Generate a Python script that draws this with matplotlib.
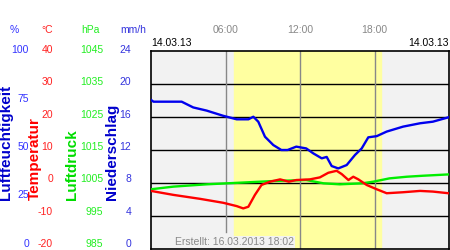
import matplotlib
matplotlib.use("Agg")
import matplotlib.pyplot as plt

plt.rcParams['font.family'] = ['Liberation Sans', 'DejaVu Sans']

# hours of day 14.03.13
hum_hours = [0.0, 0.2, 2.47, 3.4, 4.48, 5.8, 6.9, 7.85, 8.24, 8.64, 9.18, 9.85, 10.5, 11.0,
             11.7, 12.5, 13.07, 13.75, 14.15, 14.55, 15.08, 15.76, 16.43, 16.97, 17.5,
             18.18, 18.98, 20.3, 21.67, 22.7, 23.95]
hum_vals = [75.3, 74.4, 74.4, 71.5, 69.9, 67.3, 65.5, 65.5, 66.8, 64.3, 56.7, 52.5, 50.0, 50.0,
            51.7, 50.8, 48.3, 45.8, 46.5, 41.9, 40.7, 42.4, 47.5, 50.8, 56.4,
            57.0, 59.3, 61.8, 63.5, 64.3, 66.5]

temp_hours = [0.0, 1.8, 3.95, 5.82, 6.9, 7.43, 7.84, 8.37, 8.9, 9.58, 10.4, 11.1, 11.7, 12.8,
              13.6, 14.28, 14.95, 15.36, 15.9, 16.29, 16.7, 17.37, 18.18, 18.98, 20.3,
              21.67, 22.7, 23.95]
temp_vals = [-2.4, -3.6, -4.8, -6.0, -7.0, -7.7, -7.2, -3.6, -0.6, 0.4, 1.1, 0.4, 0.9, 1.1,
             1.7, 3.1, 3.7, 2.7, 0.9, 1.9, 1.1, -0.6, -1.9, -3.1, -2.8,
             -2.4, -2.6, -3.1]

pres_hours = [0.0, 1.8, 4.48, 7.2, 9.85, 12.5, 13.9, 15.2, 17.0, 17.9, 19.2, 20.6, 21.9, 23.95]
pres_vals = [1003.1, 1003.9, 1004.6, 1005.1, 1005.6, 1005.9, 1004.9, 1004.6, 1004.9, 1005.4,
             1006.4, 1006.9, 1007.2, 1007.6]

daylight = (6.68, 18.55)
hour_ticks = [6, 12, 18]
hour_labels = ['06:00', '12:00', '18:00']

hum_ticks = [100, 75, 50, 25, 0]
temp_ticks = [40, 30, 20, 10, 0, -10, -20]
pres_ticks = [1045, 1035, 1025, 1015, 1005, 995, 985]
rain_ticks = [24, 20, 16, 12, 8, 4, 0]

W, H = 450, 250
fig = plt.figure(figsize=(W / 100, H / 100), dpi=100)
fig.patch.set_facecolor('white')


def px(x, y):
    return x / W, 1 - y / H


ax_l, ax_t, ax_r, ax_b = 151, 51, 449, 249
ax = fig.add_axes([ax_l / W, 1 - ax_b / H, (ax_r - ax_l) / W, (ax_b - ax_t) / H])
ax.set_facecolor('#f2f2f2')
ax.set_xlim(0, 24)
ax.set_ylim(-20, 40)
ax.set_xticks([])
ax.set_yticks([])
for s in ax.spines.values():
    s.set_color('black')
    s.set_linewidth(1.2)

ax.axvspan(daylight[0], daylight[1], color='#ffffa0', zorder=0)
for t in temp_ticks[1:-1]:
    ax.axhline(t, color='black', lw=1.0, zorder=1)
ax.axvline(6, ymin=(ax_b - 232) / (ax_b - ax_t), ymax=1, color='#888888', lw=1.0, zorder=1)
for h in hour_ticks[1:]:
    ax.axvline(h, color='#888888', lw=1.0, zorder=1)

# pressure and humidity mapped onto temperature scale
pres_mapped = [(p - 985) - 20 for p in pres_vals]
hum_mapped = [v * 0.6 - 20 for v in hum_vals]
ax.plot(pres_hours, pres_mapped, color='#00ee00', lw=1.7, zorder=3)
ax.plot(temp_hours, temp_vals, color='#ff0000', lw=1.7, zorder=4)
ax.plot(hum_hours, hum_mapped, color='#0000ee', lw=1.7, zorder=5)

ax.text(0.08, 0.035, 'Erstellt: 16.03.2013 18:02', transform=ax.transAxes, fontsize=7.5,
        color='#888888', ha='left', va='center', zorder=6,
        bbox=dict(facecolor='#f2f2f2', edgecolor='none', pad=0.5))

# top labels
fs = 7.5
for h, lab in zip(hour_ticks, hour_labels):
    x = ax_l + (ax_r - ax_l) * h / 24
    fig.text(*px(x, 30), lab, fontsize=fs, color='#888888', ha='center', va='center')
fig.text(*px(ax_l, 43), '14.03.13', fontsize=fs, color='black', ha='left', va='center')
fig.text(*px(ax_r, 43), '14.03.13', fontsize=fs, color='black', ha='right', va='center')

# left scales
lab_top, lab_bot = 50, 244
cols = [('%', 14, 29, hum_ticks, '#3333ff'),
        ('°C', 47, 53, temp_ticks, '#ff2222'),
        ('hPa', 90, 103, pres_ticks, '#22ee22'),
        ('mm/h', 133, 131, rain_ticks, '#3333dd')]
for unit, ux, rx, ticks, col in cols:
    fig.text(*px(ux, 30), unit, fontsize=fs, color=col, ha='center', va='center')
    n = len(ticks)
    for i, t in enumerate(ticks):
        y = lab_top + (lab_bot - lab_top) * i / (n - 1)
        fig.text(*px(rx, y), str(t), fontsize=fs, color=col, ha='right', va='center')

names = [('Luftfeuchtigkeit', 6, '#0000cc'),
         ('Temperatur', 35, '#ff0000'),
         ('Luftdruck', 72, '#00dd00'),
         ('Niederschlag', 112, '#0000cc')]
for name, x, col in names:
    fig.text(*px(x, 200), name, fontsize=11, fontweight='bold', color=col,
             rotation=90, ha='center', va='bottom')

fig.savefig('out.png', dpi=100)
